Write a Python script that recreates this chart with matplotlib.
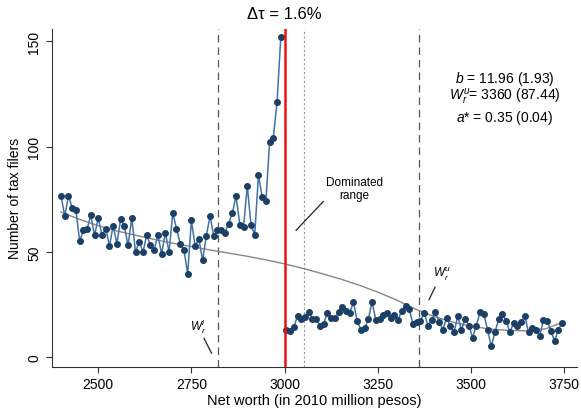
import numpy as np
import matplotlib
matplotlib.use("Agg")
import matplotlib.pyplot as plt

plt.rcParams['font.family'] = ['Liberation Sans', 'DejaVu Sans']
plt.rcParams['mathtext.fontset'] = 'custom'
plt.rcParams['mathtext.rm'] = 'Liberation Sans'
plt.rcParams['mathtext.it'] = 'Liberation Sans:italic'
plt.rcParams['mathtext.bf'] = 'Liberation Sans:bold'

# ---- data ----
left_start, bin_width = 2400, 10
left_counts = [76.7, 67.1, 76.7, 71.0, 69.8, 55.2, 60.3, 61.1, 67.4, 57.9,
               66.2, 57.9, 61.1, 52.9, 62.4, 54.0, 65.5, 62.2, 53.2, 66.2,
               50.0, 55.0, 50.0, 58.2, 53.2, 50.8, 58.2, 49.0, 59.2, 50.0,
               68.6, 61.1, 54.0, 51.1, 39.7, 65.0, 52.7, 56.3, 46.0, 57.6,
               67.1, 57.6, 60.3, 60.3, 59.2, 63.5, 68.6, 76.5, 63.0, 61.9,
               81.4, 63.0, 58.2, 86.5, 76.2, 74.1, 102.4, 104.3, 121.4, 152.0]
right_start = 3005
right_counts = [13.2, 12.7, 14.3, 19.8, 18.2, 19.0, 21.7, 18.2, 18.2, 15.1,
                15.9, 21.1, 18.6, 18.6, 21.4, 23.8, 22.2, 21.1, 26.2, 17.4,
                13.2, 13.8, 18.2, 26.2, 17.9, 18.2, 20.1, 21.1, 18.6, 20.1,
                17.9, 22.2, 24.6, 23.0, 15.7, 16.7, 17.4, 21.1, 15.1, 17.9,
                21.4, 16.9, 13.2, 18.6, 15.1, 11.9, 19.5, 13.2, 18.2, 15.1,
                9.3, 15.1, 21.4, 20.6, 13.2, 5.2, 11.9, 18.2, 20.6, 17.4,
                11.9, 16.3, 15.1, 16.7, 19.5, 11.9, 14.0, 13.2, 10.0, 17.9,
                17.4, 12.7, 7.6, 13.2, 16.3]

cf_x = [2400, 2450, 2500, 2550, 2600, 2650, 2700, 2750, 2800, 2850, 2900,
        2950, 3000, 3050, 3100, 3150, 3200, 3250, 3300, 3350, 3400, 3450,
        3500, 3550, 3600, 3650, 3700, 3745]
cf_y = [69.0, 65.5, 62.5, 60.0, 58.0, 56.0, 54.2, 52.6, 51.0, 49.5, 48.0,
        46.3, 44.4, 42.2, 39.8, 37.2, 34.3, 31.0, 27.3, 23.0, 19.5, 16.8,
        14.8, 13.5, 12.8, 12.6, 13.5, 16.5]

notch = 3000
w_lower = 2822
dominated_end = 3053
w_upper = 3360

xticks = [2500, 2750, 3000, 3250, 3500, 3750]
yticks = [0, 50, 100, 150]

stats_lines = [r'$b$ = 11.96 (1.93)',
               r'$W_r^u$= 3360 (87.44)',
               r'$a$* = 0.35 (0.04)']

left_x = left_start + bin_width * np.arange(len(left_counts))
right_x = right_start + bin_width * np.arange(len(right_counts))

fig = plt.figure(figsize=(5.81, 4.14), dpi=100)
ax = fig.add_axes([0.089, 0.111, 0.904, 0.817])

line_c = '#4272a8'
mark_c = '#1c3f66'

ax.axvline(w_lower, color='#555555', ls=(0, (6, 4)), lw=0.9, zorder=1)
ax.axvline(w_upper, color='#555555', ls=(0, (6, 4)), lw=0.9, zorder=1)
ax.axvline(dominated_end, color='#9a9a9a', ls=(0, (2, 2)), lw=0.8, zorder=1)

ax.plot(cf_x, cf_y, color='#8c8580', lw=1.0, zorder=2)

for xs, ys in ((left_x, left_counts), (right_x, right_counts)):
    ax.plot(xs, ys, color=line_c, lw=1.1, marker='o', ms=4.0,
            mfc=mark_c, mec=mark_c, zorder=3)

ax.axvline(notch, color='#ee1111', lw=1.8, zorder=4)

ax.set_xlim(2375, 3785)
ax.set_ylim(-4.6, 156)
ax.set_xticks(xticks)
ax.set_yticks(yticks)
ax.tick_params(axis='both', labelsize=10, length=4, width=0.8, color='#333333')
for lab in ax.get_yticklabels():
    lab.set_rotation(90)
    lab.set_va('center')
ax.spines['top'].set_visible(False)
ax.spines['right'].set_visible(False)
for s in ('left', 'bottom'):
    ax.spines[s].set_color('#333333')
    ax.spines[s].set_linewidth(0.8)

ax.set_xlabel('Net worth (in 2010 million pesos)', fontsize=10.5, labelpad=1)
ax.set_ylabel('Number of tax filers', fontsize=10, labelpad=4)

ax.text(notch, 1.022, 'Δτ = 1.6%', transform=ax.get_xaxis_transform(),
        ha='center', va='bottom', fontsize=12)

for yb, s in zip([130.6, 122.3, 112.3], stats_lines):
    ax.text(3592, yb, s, ha='center', va='baseline', fontsize=10)

ax.text(3188, 80, 'Dominated\nrange', ha='center', va='center', fontsize=8.5,
        linespacing=1.1)
ax.plot([3104, 3031], [74.0, 60.3], color='#222222', lw=0.9)

ax.text(2768, 15, r'$W_r^l$', ha='center', va='center', fontsize=8.5)
ax.plot([2784, 2804], [9.0, 2.0], color='#222222', lw=0.9)

ax.text(3422, 40, r'$W_r^u$', ha='center', va='center', fontsize=8.5)
ax.plot([3404, 3388], [33.3, 27.4], color='#222222', lw=0.9)

fig.savefig('out.png', dpi=100)
